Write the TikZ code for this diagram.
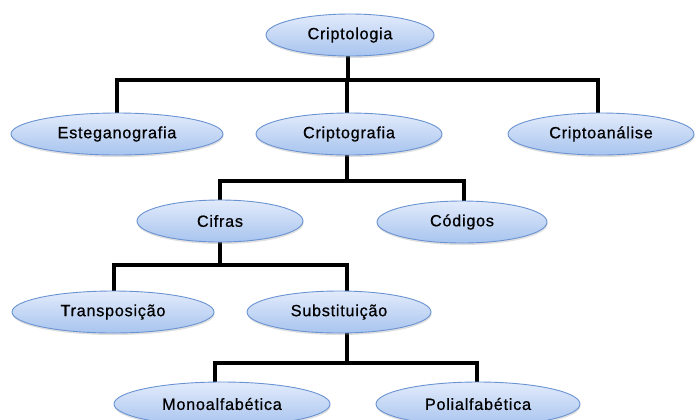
\documentclass[tikz,border=0pt]{standalone}
\usepackage{fontspec}
\setmainfont{Liberation Sans}[LetterSpace=4.5,FakeBold=0.6]
\usetikzlibrary{shapes.geometric,shadows,backgrounds}
\definecolor{ellTop}{HTML}{E2EBFB}
\definecolor{ellBot}{HTML}{A8C4EF}
\definecolor{ellLine}{HTML}{6A93D2}
\tikzset{
  ell/.style={ellipse, draw=ellLine, line width=0.9bp, top color=ellTop, bottom color=ellBot,
    inner sep=0pt, minimum height=42bp, font=\fontsize{16.3}{19}\selectfont, text=black,
    drop shadow={opacity=0.25, shadow xshift=0.5bp, shadow yshift=-2bp}},
  conn/.style={line width=3.5bp, draw=black, line join=miter}
}
\begin{document}
\begin{tikzpicture}[x=1bp,y=-1bp]
\useasboundingbox (0,0) rectangle (695,419);
\clip (0,0) rectangle (695,419);
% nodes
\node[ell, minimum width=168bp] (crl) at (350,35) {Criptologia};
\node[ell, minimum width=212bp] (est) at (117,134) {Esteganografia};
\node[ell, minimum width=186bp] (crg) at (349,134) {Criptografia};
\node[ell, minimum width=186bp] (cra) at (601,134) {Criptoanálise};
\node[ell, minimum width=166bp] (cif) at (220,221) {Cifras};
\node[ell, minimum width=170bp] (cod) at (462,222) {Códigos};
\node[ell, minimum width=202bp] (tra) at (113,312) {Transposição};
\node[ell, minimum width=184bp] (sub) at (339,312) {Substituição};
\node[ell, minimum width=216bp, minimum height=44bp] (mon) at (222,404) {Monoalfabética};
\node[ell, minimum width=204bp, minimum height=44bp] (pol) at (478,404) {Polialfabética};
% bar levels
\coordinate (b1) at (0,80);
\coordinate (b2) at (0,181);
\coordinate (b3) at (0,265);
\coordinate (b4) at (0,363);
% connector end points (relative to node centres)
\coordinate (crl-o) at ([xshift=-2bp]crl.center);
\coordinate (est-i) at (est.center);
\coordinate (crg-i) at ([xshift=-2bp]crg.center);
\coordinate (crg-o) at ([xshift=-2bp]crg.center);
\coordinate (cra-i) at ([xshift=-3bp]cra.center);
\coordinate (cif-i) at (cif.center);
\coordinate (cif-o) at (cif.center);
\coordinate (cod-i) at ([xshift=2bp]cod.center);
\coordinate (tra-i) at ([xshift=1bp]tra.center);
\coordinate (sub-i) at ([xshift=8bp]sub.center);
\coordinate (sub-o) at ([xshift=8bp]sub.center);
\coordinate (mon-i) at ([xshift=-7bp]mon.center);
\coordinate (pol-i) at ([xshift=-1bp]pol.center);
\begin{scope}[on background layer]
\draw[conn] (crl-o) -- (crl-o |- b1) -| (est-i);
\draw[conn] (crl-o) -- (crl-o |- b1) -| (crg-i);
\draw[conn] (crl-o) -- (crl-o |- b1) -| (cra-i);
\draw[conn] (crg-o) -- (crg-o |- b2) -| (cif-i);
\draw[conn] (crg-o) -- (crg-o |- b2) -| (cod-i);
\draw[conn] (cif-o) -- (cif-o |- b3) -| (tra-i);
\draw[conn] (cif-o) -- (cif-o |- b3) -| (sub-i);
\draw[conn] (sub-o) -- (sub-o |- b4) -| (mon-i);
\draw[conn] (sub-o) -- (sub-o |- b4) -| (pol-i);
\end{scope}
\end{tikzpicture}
\end{document}
